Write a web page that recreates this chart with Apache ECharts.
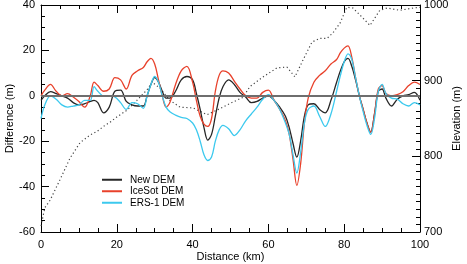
<!DOCTYPE html>
<html><head><meta charset="utf-8">
<script src="https://cdn.jsdelivr.net/npm/echarts@6/dist/echarts.min.js"></script>
<style>html,body{margin:0;padding:0;background:#fff}#c{width:467px;height:264px}</style>
</head><body><div id="c"></div><script>
// Distances (km) shared by the three difference profiles
const distance = [0,1,2.5,4,5.5,7,8.5,10,11.5,13,14,15,16.5,18,19.5,21,22.5,24,25.5,27,28,29,30,31,32,33,34,35.5,37,38.5,40,41,42,43,44,45,46,47,48,49.5,51,52.5,54,55.5,57,58.5,60,61.5,63,64.5,65.5,66.5,67.5,68.5,69.5,70.5,72,73.5,75,76.5,78,79,80,81,82,83,84,85,86,87,88,89,90,91,92.5,94,95.5,97,98.5,100];
const newDEM = [-2,0,1.8,1,0,-1,-3,-4,-3.5,-2.5,-2,-3,-7.5,-5,2,2.5,-2.5,-4,-4.5,-4.5,0,5,8,6,2,-1,-1,2,7,8.5,7,1,-6,-14,-19.5,-17,-9,-1,4,7,5,1.5,-0.5,-3,-2.5,-1,0,-2,-5,-9,-14,-21,-27,-20,-9,-4,-3.5,-6,-7.5,-2,6,11,15,16.5,13,7,0,-6,-12,-16,-8,2,3,-1,-4.5,-1.5,0,0.5,1.5,-2];
const iceSotDEM = [0,2.5,5,2,0,1,-0.5,-2.5,-5,0,6,4.5,2,3,8,7,3,9,11,12.5,15,16.5,14,7,0,-5,-3,5,11,13,6,-2,-9,-12.5,-13.5,-10,2,9,11,10,6.5,3,0,-1,-1,1.5,2.5,-2,-6,-11,-17,-28,-39.5,-30,-12,-1,6,9,11,14,16,19,21,22,17,8,0,-6,-12,-16,-8,3,4.5,1,0,0.5,1.8,4.5,6,5];
const ers1DEM = [-10,-4,0,-1.5,-4,-5,-4.5,-4,-2,-2,4,2,0,0,-0.5,-3,-6,-3,-3.5,-5.5,0,5,8.5,6,0,-5,-7,-8.5,-9.5,-10,-12,-15,-20,-26,-28.5,-27,-20,-15,-13,-14.5,-17.5,-15,-11,-8,-5,-1.5,0.5,-2,-6,-12,-17,-26,-34,-25,-12,-6,-4.5,-9,-13.5,-8,2,9,15,18.5,16,8,0,-7,-13,-17,-10,2,5,1,-1,-1.5,-3.5,-4.5,-3,-4];
// Elevation profile (dotted, right axis)
const elevDist = [0,1,2.4,5,7.7,10.3,12.9,14.8,16.9,18.2,20,22.7,25.3,28,29.3,31.4,34,36.7,40.1,43.8,46.4,49.9,53.3,55.1,58.6,62.3,64.9,67,69.1,71.5,73.6,75.5,77,78.9,80.7,82.3,84.7,86.8,89.4,91.3,94.7,98.2,100];
const elevation = [708,732,742,769,798,818,828,833,841,845,852,861,874,888,898,890,874,865,864,855,861,870,878,892,905,917,918,905,927,951,956,956,963,976,997,996,984,973,993,996,993,996,997];
const xTicks = [0,20,40,60,80,100];
const leftTicks = [-60,-40,-20,0,20,40];
const rightTicks = [700,800,900,1000];

const FF = 'Liberation Sans, Arial, Helvetica, sans-serif';
const pair = (xs, ys) => xs.map((x, i) => [x, ys[i]]);
const axisCommon = {
  axisLine: {show: true, onZero: false, lineStyle: {color: '#000', width: 1}},
  axisTick: {show: true, inside: true, length: 8, lineStyle: {color: '#000'}},
  splitLine: {show: false},
  minorSplitLine: {show: false},
  nameMoveOverlap: false,
};
const minor = n => ({show: true, splitNumber: n, length: 4, lineStyle: {color: '#000', width: 1}});
const chart = echarts.init(document.getElementById('c'));
chart.setOption({
  animation: false,
  backgroundColor: '#fff',
  grid: {left: 41, right: 47, top: 5, bottom: 32, containLabel: false, outerBoundsMode: 'none'},
  legend: {
    left: 97, top: 169, orient: 'vertical', itemGap: 0, itemWidth: 20, itemHeight: 2, icon: 'rect',
    data: ['New DEM', 'IceSot DEM', 'ERS-1 DEM'],
    textStyle: {fontFamily: FF, fontSize: 10, color: '#000', lineHeight: 11.5, padding: [0, 0, 0, 3]}
  },
  xAxis: [
    Object.assign({type: 'value', position: 'bottom', min: xTicks[0], max: xTicks[xTicks.length-1], interval: 20,
      minorTick: minor(4),
      axisLabel: {color: '#000', fontFamily: FF, fontSize: 11, margin: 7},
      name: 'Distance (km)', nameLocation: 'middle', nameGap: 19,
      nameTextStyle: {fontFamily: FF, fontSize: 11, color: '#000'}}, axisCommon),
    Object.assign({type: 'value', position: 'top', min: xTicks[0], max: xTicks[xTicks.length-1], interval: 20,
      minorTick: minor(4),
      axisLabel: {show: false}}, axisCommon)
  ],
  yAxis: [
    Object.assign({type: 'value', position: 'left', min: leftTicks[0], max: leftTicks[leftTicks.length-1], interval: 20,
      minorTick: minor(4),
      axisLabel: {color: '#000', fontFamily: FF, fontSize: 11, margin: 6},
      name: 'Difference (m)', nameLocation: 'middle', nameGap: 31, nameRotate: 90,
      nameTextStyle: {fontFamily: FF, fontSize: 11, color: '#000', verticalAlign: 'middle'}}, axisCommon),
    Object.assign({type: 'value', position: 'right', min: rightTicks[0], max: rightTicks[rightTicks.length-1], interval: 100,
      alignTicks: false,
      minorTick: minor(10),
      axisLabel: {color: '#000', fontFamily: FF, fontSize: 11, margin: 4, formatter: v => String(v)},
      name: 'Elevation (m)', nameLocation: 'middle', nameGap: 37, nameRotate: 90,
      nameTextStyle: {fontFamily: FF, fontSize: 11, color: '#000', verticalAlign: 'middle'}}, axisCommon)
  ],
  series: [
    {name: 'Elevation', type: 'line', xAxisIndex: 0, yAxisIndex: 1, data: pair(elevDist, elevation),
      showSymbol: false, smooth: false, lineStyle: {color: '#444', width: 1.2, type: [1.2, 2.6]}, z: 1},
    {name: 'New DEM', type: 'line', xAxisIndex: 0, yAxisIndex: 0, data: pair(distance, newDEM),
      showSymbol: false, smooth: 0.35, lineStyle: {color: '#262626', width: 1.3}, itemStyle: {color: '#262626'}, z: 3,
      markLine: {silent: true, symbol: 'none', label: {show: false}, animation: false,
        lineStyle: {color: '#6e6e6e', width: 2, type: 'solid'}, data: [{yAxis: 0}]}},
    {name: 'IceSot DEM', type: 'line', xAxisIndex: 0, yAxisIndex: 0, data: pair(distance, iceSotDEM),
      showSymbol: false, smooth: 0.35, lineStyle: {color: '#e8412b', width: 1.3}, itemStyle: {color: '#e8412b'}, z: 3},
    {name: 'ERS-1 DEM', type: 'line', xAxisIndex: 0, yAxisIndex: 0, data: pair(distance, ers1DEM),
      showSymbol: false, smooth: 0.35, lineStyle: {color: '#3cc9ee', width: 1.3}, itemStyle: {color: '#3cc9ee'}, z: 3}
  ]
});
</script></body></html>
